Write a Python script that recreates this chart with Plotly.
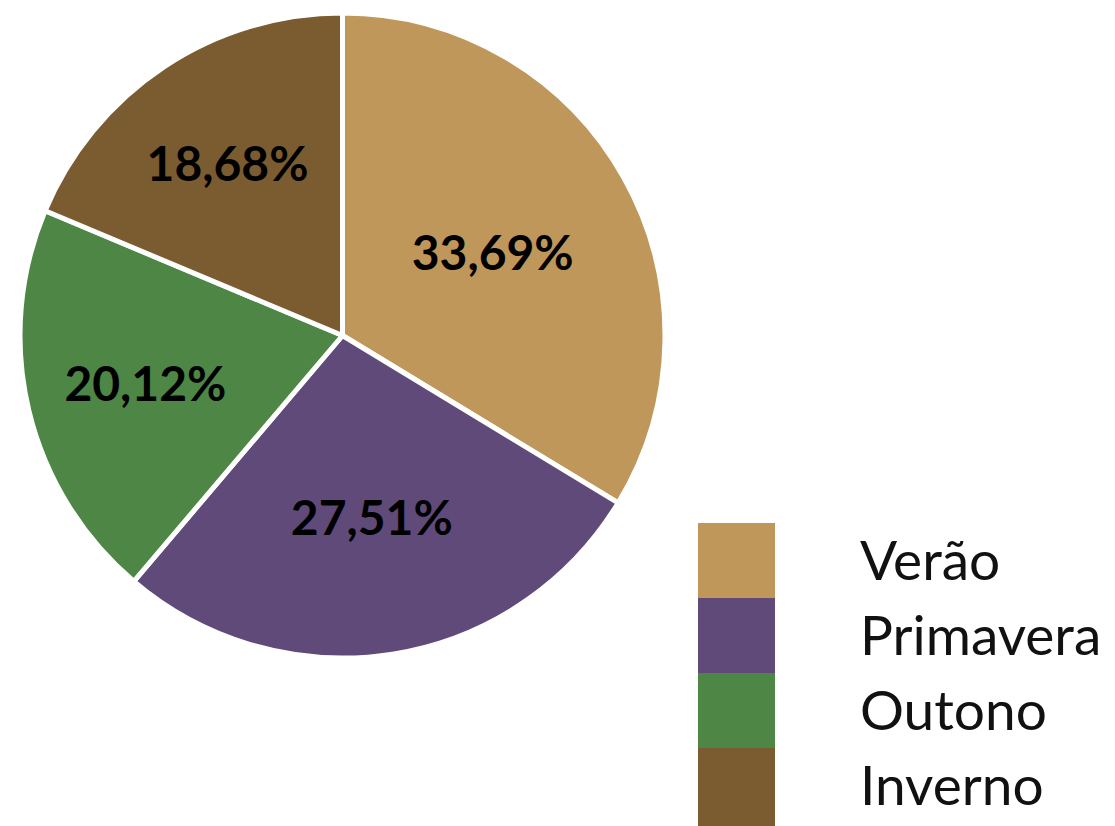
import plotly.graph_objects as go

categories = ["Verão", "Primavera", "Outono", "Inverno"]
values = [33.69, 27.51, 20.12, 18.68]
colors = ["#C0975A", "#5F4A7A", "#4E8645", "#7B5C30"]

W, H = 1115, 826
fig = go.Figure()
fig.add_trace(go.Pie(
    labels=categories,
    values=values,
    sort=False,
    direction="clockwise",
    rotation=0,
    marker=dict(colors=colors, line=dict(color="white", width=5)),
    texttemplate="%{value:.2f}%",
    textposition="inside",
    insidetextorientation="horizontal",
    textfont=dict(family="Lato", size=48, color="black", weight="bold"),
    domain=dict(x=[20 / W, 665 / W], y=[1 - 658 / H, 1 - 13 / H]),
    showlegend=False,
    hoverinfo="label+percent",
))

# legend blocks
block_x0, block_x1 = 698, 775
block_top, block_h = 523, 75
for i, (cat, col) in enumerate(zip(categories, colors)):
    y0 = block_top + i * block_h
    y1 = y0 + block_h if i < len(categories) - 1 else H
    fig.add_shape(type="rect", xref="paper", yref="paper",
                  x0=block_x0 / W, x1=block_x1 / W,
                  y0=1 - y1 / H, y1=1 - y0 / H,
                  fillcolor=col, line=dict(width=0), layer="above")
    fig.add_annotation(xref="paper", yref="paper",
                       x=858 / W, y=1 - (y0 + block_h / 2 - 2) / H,
                       xanchor="left", yanchor="middle",
                       text=cat, showarrow=False,
                       font=dict(family="Lato", size=55, color="#111111"))

fig.update_layout(
    width=W, height=H,
    margin=dict(l=0, r=0, t=0, b=0),
    paper_bgcolor="white",
    plot_bgcolor="white",
    separators=",.",
)
fig.write_html("out.html")
